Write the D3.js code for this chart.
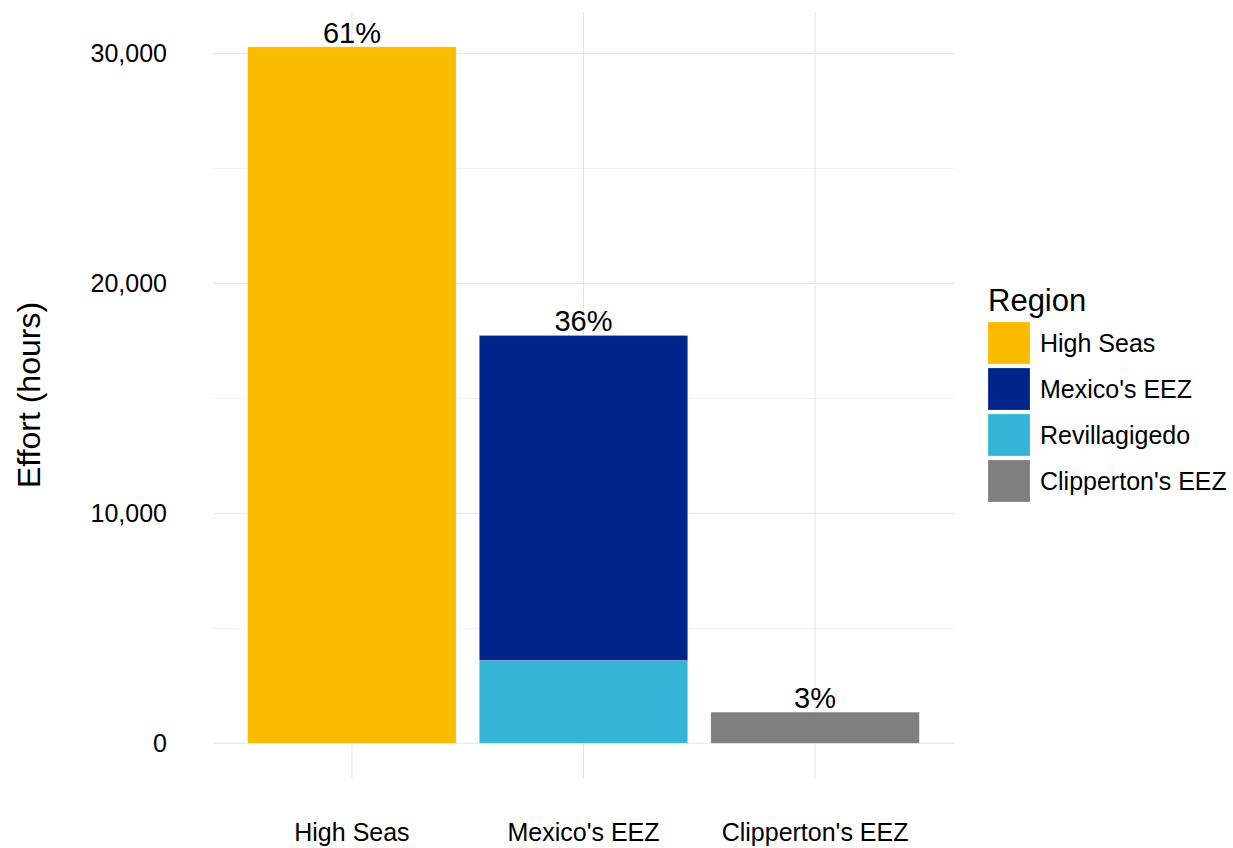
<!DOCTYPE html>
<html>
<head>
<meta charset="utf-8">
<script src="https://cdn.jsdelivr.net/npm/d3@7"></script>
<style>
  html, body { margin: 0; padding: 0; background: #fff; }
  text { font-family: "Liberation Sans", Arial, sans-serif; fill: #000; }
</style>
</head>
<body>
<svg id="chart" width="1233" height="848"></svg>
<script>
// Fishing effort by region (hours)
const categories = ["High Seas", "Mexico's EEZ", "Clipperton's EEZ"];
const regions = ["High Seas", "Mexico's EEZ", "Revillagigedo", "Clipperton's EEZ"];
const regionColors = ["#fbbc00", "#00258a", "#35b4d8", "#7f7f7f"];
// stacked segments: [category, region, hours]
const segCategory = ["High Seas", "Mexico's EEZ", "Mexico's EEZ", "Clipperton's EEZ"];
const segRegion = ["High Seas", "Revillagigedo", "Mexico's EEZ", "Clipperton's EEZ"];
const segHours = [30300, 3600, 14140, 1350];
const shareLabels = ["61%", "36%", "3%"];
const yTicks = [0, 10000, 20000, 30000];
const yMinor = [5000, 15000, 25000];

const svg = d3.select("#chart");
const panel = { left: 213, right: 954, top: 12, bottom: 778 };
const FONT = '"Liberation Sans", Arial, sans-serif';

// category totals
const totals = categories.map(c => d3.sum(segHours.filter((v, i) => segCategory[i] === c)));
const maxTotal = d3.max(totals);
const pad = maxTotal * 0.05;

const x = d3.scaleBand().domain(categories)
  .range([panel.left, panel.right]).paddingInner(0.1).paddingOuter(0.15);
const y = d3.scaleLinear().domain([-pad, maxTotal + pad]).range([panel.bottom, panel.top]);
const color = d3.scaleOrdinal().domain(regions).range(regionColors);

// minor grid
svg.append("g").selectAll("line").data(yMinor).join("line")
  .attr("x1", panel.left).attr("x2", panel.right)
  .attr("y1", d => y(d)).attr("y2", d => y(d))
  .attr("stroke", "#f3f3f3").attr("stroke-width", 1);
// major grid
svg.append("g").selectAll("line").data(yTicks).join("line")
  .attr("x1", panel.left).attr("x2", panel.right)
  .attr("y1", d => y(d)).attr("y2", d => y(d))
  .attr("stroke", "#e4e4e4").attr("stroke-width", 1);
svg.append("g").selectAll("line").data(categories).join("line")
  .attr("x1", d => x(d) + x.bandwidth() / 2).attr("x2", d => x(d) + x.bandwidth() / 2)
  .attr("y1", panel.top).attr("y2", panel.bottom)
  .attr("stroke", "#e4e4e4").attr("stroke-width", 1);

// stacked bars
const cum = {};
const segs = segHours.map((v, i) => {
  const c = segCategory[i];
  const y0 = cum[c] || 0;
  cum[c] = y0 + v;
  return { c, r: segRegion[i], y0, y1: y0 + v };
});
svg.append("g").selectAll("rect").data(segs).join("rect")
  .attr("x", d => x(d.c)).attr("width", x.bandwidth())
  .attr("y", d => y(d.y1)).attr("height", d => y(d.y0) - y(d.y1))
  .attr("fill", d => color(d.r))
  .attr("stroke", "#ffffff").attr("stroke-opacity", 0.35).attr("stroke-width", 0.6);

// share labels
svg.append("g").selectAll("text").data(categories).join("text")
  .attr("x", d => x(d) + x.bandwidth() / 2)
  .attr("y", (d, i) => y(totals[i]) - 4)
  .attr("text-anchor", "middle").attr("font-size", 29)
  .text((d, i) => shareLabels[i]);

// y axis
const yAxis = d3.axisLeft(y).tickValues(yTicks).tickSize(0).tickPadding(0)
  .tickFormat(d3.format(","));
const ya = svg.append("g").attr("transform", `translate(${panel.left - 46},0)`).call(yAxis);
ya.select(".domain").remove();
ya.selectAll("text").attr("font-size", 25).attr("fill", "#000").style("font-family", FONT);

// x axis
const xAxis = d3.axisBottom(x).tickSize(0).tickPadding(0);
const xa = svg.append("g").attr("transform", `translate(0,${panel.bottom + 45})`).call(xAxis);
xa.select(".domain").remove();
xa.selectAll("text").attr("font-size", 25).attr("fill", "#000").style("font-family", FONT);

// y title
svg.append("text").attr("transform", `translate(40,${(panel.top + panel.bottom) / 2}) rotate(-90)`)
  .attr("text-anchor", "middle").attr("font-size", 32).text("Effort (hours)");

// legend
const lg = svg.append("g").attr("transform", "translate(988,0)");
lg.append("text").attr("x", 0).attr("y", 311).attr("font-size", 31).text("Region");
const items = lg.selectAll("g.item").data(regions).join("g").attr("class", "item")
  .attr("transform", (d, i) => `translate(0,${322 + i * 46})`);
items.append("rect").attr("width", 42).attr("height", 42)
  .attr("fill", d => color(d))
  .attr("stroke", "#ffffff").attr("stroke-opacity", 0.35).attr("stroke-width", 0.6);
items.append("text").attr("x", 52).attr("y", 21).attr("dy", "0.36em")
  .attr("font-size", 25).text(d => d);
</script>
</body>
</html>
